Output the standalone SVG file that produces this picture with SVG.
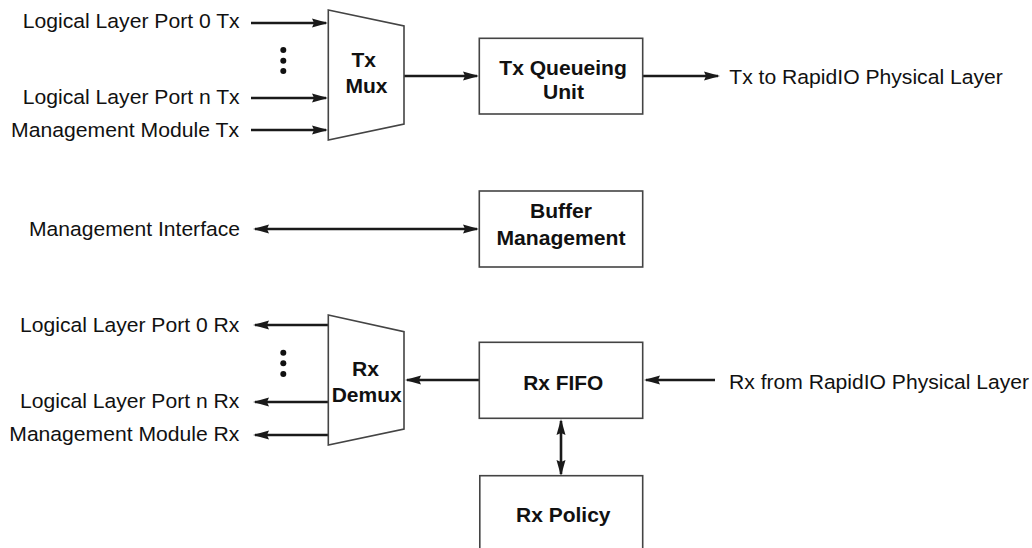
<svg xmlns="http://www.w3.org/2000/svg" width="1032" height="548" viewBox="0 0 1032 548">
<style>
.lbl{font-family:"Liberation Sans",Arial,sans-serif;font-size:20.5px;fill:#111}
.b{font-family:"Liberation Sans",Arial,sans-serif;font-size:20px;font-weight:bold;fill:#111}
.box{fill:#fff;stroke:#444;stroke-width:1.6}
.con{fill:none;stroke:#1a1a1a;stroke-width:2.6}
.dot{fill:#111}
</style>
<defs>
<marker id="ah" viewBox="0 0 16 10" refX="14" refY="5" markerWidth="16" markerHeight="10" markerUnits="userSpaceOnUse" orient="auto-start-reverse">
<path d="M0,0.5 L16,5 L0,9.5 L2,5 z" fill="#1a1a1a"/>
</marker>
</defs>
<rect width="1032" height="548" fill="#fff"/>

<g id="connectors">
<line class="con" x1="251" y1="23" x2="326" y2="23" marker-end="url(#ah)"/>
<line class="con" x1="251" y1="98" x2="326" y2="98" marker-end="url(#ah)"/>
<line class="con" x1="251" y1="130" x2="326" y2="130" marker-end="url(#ah)"/>
<line class="con" x1="404" y1="76" x2="477" y2="76" marker-end="url(#ah)"/>
<line class="con" x1="643" y1="76" x2="718" y2="76" marker-end="url(#ah)"/>
<line class="con" x1="255" y1="229" x2="477" y2="229" marker-start="url(#ah)" marker-end="url(#ah)"/>
<line class="con" x1="328" y1="325" x2="255" y2="325" marker-end="url(#ah)"/>
<line class="con" x1="328" y1="402" x2="255" y2="402" marker-end="url(#ah)"/>
<line class="con" x1="328" y1="435" x2="255" y2="435" marker-end="url(#ah)"/>
<line class="con" x1="479" y1="380" x2="407" y2="380" marker-end="url(#ah)"/>
<line class="con" x1="715" y1="380" x2="646" y2="380" marker-end="url(#ah)"/>
<line class="con" x1="561" y1="421" x2="561" y2="474" marker-start="url(#ah)" marker-end="url(#ah)"/>
</g>

<g id="tx-inputs">
<text class="lbl" x="22.7" y="27.5" textLength="217" lengthAdjust="spacingAndGlyphs">Logical Layer Port 0 Tx</text>
<circle class="dot" cx="283.3" cy="50" r="3"/>
<circle class="dot" cx="283.3" cy="60.7" r="3"/>
<circle class="dot" cx="283.3" cy="71" r="3"/>
<text class="lbl" x="22.7" y="103.5" textLength="217" lengthAdjust="spacingAndGlyphs">Logical Layer Port n Tx</text>
<text class="lbl" x="11" y="137" textLength="228" lengthAdjust="spacingAndGlyphs">Management Module Tx</text>
</g>

<g id="tx-mux">
<polygon class="box" points="328.3,10 404,26 404,124 328.3,140"/>
<text class="b" x="351.5" y="67" textLength="24.5" lengthAdjust="spacingAndGlyphs">Tx</text>
<text class="b" x="345.5" y="93" textLength="42" lengthAdjust="spacingAndGlyphs">Mux</text>
</g>

<g id="tx-queueing-unit">
<rect class="box" x="479.3" y="38.3" width="163.4" height="75.7"/>
<text class="b" x="499.3" y="75" textLength="127.5" lengthAdjust="spacingAndGlyphs">Tx Queueing</text>
<text class="b" x="543" y="99" textLength="41" lengthAdjust="spacingAndGlyphs">Unit</text>
</g>

<g id="tx-phy">
<text class="lbl" x="729.3" y="83.5" textLength="273.5" lengthAdjust="spacingAndGlyphs">Tx to RapidIO Physical Layer</text>
</g>

<g id="mgmt-interface">
<text class="lbl" x="29" y="236" textLength="211" lengthAdjust="spacingAndGlyphs">Management Interface</text>
</g>

<g id="buffer-management">
<rect class="box" x="479.3" y="191" width="163.4" height="76"/>
<text class="b" x="530" y="218" textLength="62" lengthAdjust="spacingAndGlyphs">Buffer</text>
<text class="b" x="496.5" y="245" textLength="129" lengthAdjust="spacingAndGlyphs">Management</text>
</g>

<g id="rx-outputs">
<text class="lbl" x="20" y="332" textLength="219.3" lengthAdjust="spacingAndGlyphs">Logical Layer Port 0 Rx</text>
<circle class="dot" cx="283.3" cy="352.7" r="3"/>
<circle class="dot" cx="283.3" cy="363.3" r="3"/>
<circle class="dot" cx="283.3" cy="374" r="3"/>
<text class="lbl" x="20" y="407.5" textLength="219.3" lengthAdjust="spacingAndGlyphs">Logical Layer Port n Rx</text>
<text class="lbl" x="9.3" y="440.5" textLength="230" lengthAdjust="spacingAndGlyphs">Management Module Rx</text>
</g>

<g id="rx-demux">
<polygon class="box" points="328.3,315 404,331.7 404,429 328.3,445"/>
<text class="b" x="352" y="376" textLength="27" lengthAdjust="spacingAndGlyphs">Rx</text>
<text class="b" x="331.7" y="402" textLength="70" lengthAdjust="spacingAndGlyphs">Demux</text>
</g>

<g id="rx-fifo">
<rect class="box" x="479.3" y="342.3" width="163.4" height="76"/>
<text class="b" x="523.3" y="390" textLength="80" lengthAdjust="spacingAndGlyphs">Rx FIFO</text>
</g>

<g id="rx-phy">
<text class="lbl" x="729" y="388.5" textLength="300" lengthAdjust="spacingAndGlyphs">Rx from RapidIO Physical Layer</text>
</g>

<g id="rx-policy">
<rect class="box" x="479.8" y="475.7" width="162.9" height="80"/>
<text class="b" x="516" y="521.7" textLength="94.5" lengthAdjust="spacingAndGlyphs">Rx Policy</text>
</g>
</svg>
